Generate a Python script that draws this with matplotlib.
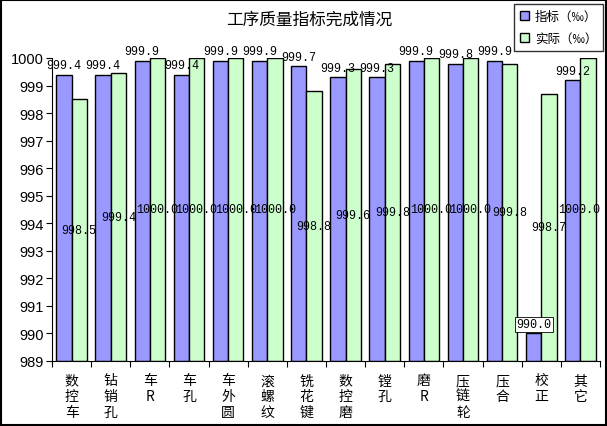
import numpy as np
import matplotlib.pyplot as plt
from matplotlib.patches import Rectangle

plt.rcParams['font.family'] = ['Noto Sans CJK SC', 'DejaVu Sans']

categories = ["数控车", "钻销孔", "车R", "车孔", "车外圆", "滚螺纹", "铣花键",
              "数控磨", "镗孔", "磨R", "压链轮", "压合", "校正", "其它"]
index_vals = [999.4, 999.4, 999.9, 999.4, 999.9, 999.9, 999.7,
              999.3, 999.3, 999.9, 999.8, 999.9, 990.0, 999.2]
actual_vals = [998.5, 999.45, 1000.0, 1000.0, 1000.0, 1000.0, 998.8,
               999.6, 999.8, 1000.0, 1000.0, 999.8, 998.7, 1000.0]
actual_text = ["998.5", "999.4", "1000.0", "1000.0", "1000.0", "1000.0", "998.8",
               "999.6", "999.8", "1000.0", "1000.0", "999.8", "998.7", "1000.0"]
yticks = list(range(989, 1001))

ymin = 989
fig = plt.figure(figsize=(6.07, 4.27), dpi=100)
ax = fig.add_axes([52 / 607, 1 - 362 / 427, 548 / 607, 303 / 427])

x = np.arange(len(categories))
w = 0.39
b1 = ax.bar(x - w / 2, np.array(index_vals) - ymin, w, bottom=ymin,
            color="#9999FF", edgecolor="black", linewidth=1)
b2 = ax.bar(x + w / 2, np.array(actual_vals) - ymin, w, bottom=ymin,
            color="#CCFFCC", edgecolor="black", linewidth=1)

num_font = dict(family="Liberation Mono", fontsize=8.5)

# labels for index bars sit just above the bar
for xi, v in zip(x, index_vals):
    kw = {}
    if v < 995:
        kw["bbox"] = dict(facecolor="white", edgecolor="black", linewidth=0.6, pad=1)
    ax.text(xi - w / 2, v + 0.12, f"{v:.1f}", ha="center", va="bottom",
            clip_on=False, **num_font, **kw)

# labels for actual bars sit at the middle of the bar
for xi, v, t in zip(x, actual_vals, actual_text):
    xt, ha = xi + w / 2, "center"
    if xi == len(categories) - 1:
        xt, ha = len(categories) - 0.5, "right"
    ax.text(xt, ymin + (v - ymin) / 2, t, ha=ha, va="center", **num_font)

ax.set_xlim(-0.5, len(categories) - 0.5)
ax.set_ylim(989, 1000)
ax.set_yticks(yticks)
ax.set_yticklabels([str(t) for t in yticks], family="Liberation Sans", fontsize=10.5)
ax.set_xticks(np.arange(len(categories) + 1) - 0.5)
ax.set_xticklabels([])
ax.tick_params(axis="x", direction="out", length=4)
ax.tick_params(axis="y", direction="out", length=4, pad=2)
for i, c in enumerate(categories):
    ax.text(i, 988.55, "\n".join(c), ha="center", va="top", fontsize=10,
            linespacing=1.15)

ax.spines["top"].set_visible(False)
ax.spines["right"].set_visible(False)

fig.text(0.51, 0.953, "工序质量指标完成情况", ha="center", va="center", fontsize=12)

leg = fig.legend([b1, b2], ["指标（‰）", "实际（‰）"], loc="upper right",
                 bbox_to_anchor=(603 / 607, 1 - 5 / 427), fontsize=9,
                 frameon=True, fancybox=False, edgecolor="black",
                 handlelength=0.7, handleheight=0.7, borderpad=0.45,
                 labelspacing=0.75, handletextpad=0.5, borderaxespad=0)
leg.get_frame().set_linewidth(1)

fig.patches.append(Rectangle((0.002, 0.002), 0.996, 0.995, transform=fig.transFigure,
                             fill=False, edgecolor="black", linewidth=1.5))

fig.savefig("out.png", dpi=100)
